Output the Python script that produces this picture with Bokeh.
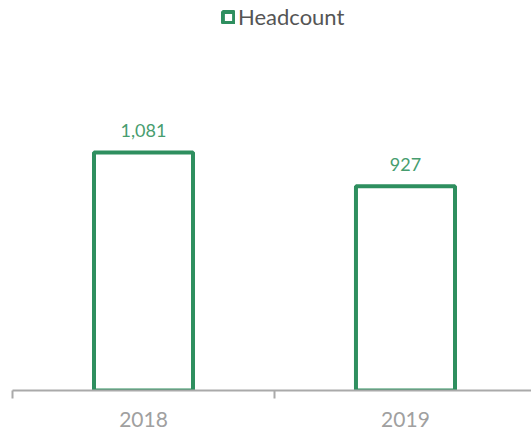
from bokeh.plotting import figure
from bokeh.models import ColumnDataSource, Range1d, FixedTicker, Legend, LegendItem
from bokeh.core.properties import value
from bokeh.embed import file_html
from bokeh.resources import INLINE

categories = ["2018", "2019"]
headcount = [1081, 927]

FONT = "Lato"
GREEN = "#2e8f5f"

xs = [i + 0.5 for i in range(len(categories))]
src = ColumnDataSource(dict(x=xs, top=headcount, label=[f"{v:,}" for v in headcount]))

p = figure(width=531, height=432, output_backend="svg", toolbar_location=None,
           x_range=Range1d(0, 1.981), y_range=Range1d(0, 1771),
           min_border_left=12, min_border_right=0, min_border_top=0, min_border_bottom=42)
p.outline_line_color = None
p.xgrid.visible = False
p.ygrid.visible = False
p.yaxis.visible = False

bars = p.vbar(x="x", top="top", width=0.378, bottom=0, source=src,
              fill_color="white", line_color=GREEN, line_width=4)

p.text(x="x", y="top", text="label", source=src, text_align="center",
       text_baseline="alphabetic", y_offset=-22, text_color="#479d6f",
       text_font=value(FONT), text_font_size="18px")

ax = p.xaxis[0]
ax.ticker = FixedTicker(ticks=xs, minor_ticks=list(range(len(categories) + 1)))
ax.major_label_overrides = {x: c for x, c in zip(xs, categories)}
ax.major_tick_line_color = None
ax.minor_tick_out = 8
ax.minor_tick_in = 0
ax.minor_tick_line_color = "#aaaaaa"
ax.minor_tick_line_width = 2
ax.axis_line_color = "#aaaaaa"
ax.axis_line_width = 2
ax.major_label_text_color = "#a0a0a0"
ax.major_label_text_font = FONT
ax.major_label_text_font_size = "21px"
ax.major_label_standoff = 13

legend = Legend(items=[LegendItem(label="Headcount", renderers=[bars])],
                location=(209, 360), orientation="horizontal",
                padding=0, margin=0, spacing=0, border_line_color=None,
                background_fill_alpha=0, glyph_width=14, glyph_height=14,
                label_standoff=3, label_text_font=FONT, label_text_font_size="22px",
                label_text_color="#555555", label_height=22)
p.add_layout(legend)

open("out.html", "w").write(file_html(p, INLINE))
